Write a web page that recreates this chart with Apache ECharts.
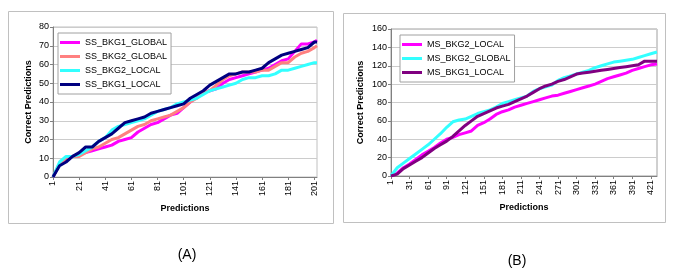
<!DOCTYPE html>
<html>
<head>
<meta charset="utf-8">
<script src="https://cdn.jsdelivr.net/npm/echarts@6/dist/echarts.min.js"></script>
<style>
  html, body { margin: 0; padding: 0; background: #fff; }
  #chart { width: 685px; height: 278px; }
</style>
</head>
<body>
<div id="chart"></div>
<script>
// panel A: sampled every 5 predictions
const xA = [1, 6, 11, 16, 21, 26, 31, 36, 41, 46, 51, 56, 61, 66, 71, 76, 81, 86, 91, 96, 101,
  106, 111, 116, 121, 126, 131, 136, 141, 146, 151, 156, 161, 166, 171, 176, 181, 186, 191, 196, 201, 203];
const ssBkg1Global = [0, 7, 10, 11, 12, 13, 14, 15, 16, 17, 19, 20, 21, 24, 26, 28, 29, 31, 33, 34, 37,
  40, 43, 45, 46, 47, 50, 52, 53, 54, 55, 56, 57, 58, 60, 62, 63, 67, 71, 71, 72, 73];
const ssBkg2Global = [0, 7, 10, 11, 11, 13, 15, 16, 18, 20, 21, 23, 25, 27, 28, 30, 31, 32, 33, 35, 37,
  40, 42, 45, 46, 49, 52, 54, 55, 56, 56, 56, 57, 57, 59, 61, 61, 64, 66, 67, 69, 70];
const ssBkg2Local = [0, 8, 11, 11, 12, 14, 16, 19, 21, 25, 27, 28, 29, 30, 31, 33, 35, 36, 37, 39, 40,
  41, 42, 44, 46, 47, 48, 49, 50, 52, 53, 53, 54, 54, 55, 57, 57, 58, 59, 60, 61, 61];
const ssBkg1Local = [0, 6, 8, 11, 13, 16, 16, 19, 21, 23, 26, 29, 30, 31, 32, 34, 35, 36, 37, 38, 39,
  42, 44, 46, 49, 51, 53, 55, 55, 56, 56, 57, 58, 61, 63, 65, 66, 67, 68, 69, 72, 72];
const xTicksA = [1, 21, 41, 61, 81, 101, 121, 141, 161, 181, 201];

// panel B: sampled every 10 predictions
const xB = [1, 11, 21, 31, 41, 51, 61, 71, 81, 91, 101, 111, 121, 131, 141, 151, 161, 171, 181, 191, 201,
  211, 221, 231, 241, 251, 261, 271, 281, 291, 301, 311, 321, 331, 341, 351, 361, 371, 381, 391, 401,
  411, 421, 431];
const msBkg2Local = [0, 3, 9, 13, 18, 23, 27, 31, 36, 40, 42, 45, 47, 49, 55, 58, 62, 67, 70, 72, 75,
  77, 79, 81, 83, 85, 87, 88, 90, 92, 94, 96, 98, 100, 103, 106, 108, 110, 112, 115, 117,
  119, 121, 122];
const msBkg2Global = [0, 9, 14, 19, 24, 29, 34, 40, 46, 53, 59, 61, 62, 65, 68, 70, 72, 75, 79, 81, 83,
  85, 87, 92, 95, 97, 99, 104, 107, 109, 111, 113, 115, 118, 120, 122, 124, 125, 126, 127, 129,
  131, 133, 135];
const msBkg1Local = [0, 2, 8, 12, 16, 20, 25, 30, 34, 38, 43, 49, 55, 60, 65, 68, 71, 74, 76, 78, 81,
  84, 87, 91, 95, 98, 100, 103, 105, 108, 111, 112, 113, 114, 115, 116, 117, 118, 119, 120, 121,
  125, 125, 125];
const xTicksB = [1, 31, 61, 91, 121, 151, 181, 211, 241, 271, 301, 331, 361, 391, 421];

const FONT = 'Liberation Sans, Arial, sans-serif';
const pairs = (xs, ys) => xs.map((x, i) => [x, ys[i]]);

const lineSeries = (name, color, xi, yi, xs, ys) => ({
  name,
  type: 'line',
  xAxisIndex: xi,
  yAxisIndex: yi,
  symbol: 'none',
  lineStyle: { width: 3, color },
  itemStyle: { color },
  data: pairs(xs, ys),
});

const xAxisOf = (gridIndex, max, ticks) => ({
  gridIndex,
  type: 'value',
  min: 1,
  max,
  name: 'Predictions',
  nameLocation: 'middle',
  nameGap: 24,
  nameTextStyle: { fontFamily: FONT, fontSize: 9, fontWeight: 'bold', color: '#000' },
  axisLine: { lineStyle: { color: '#808080' } },
  axisTick: { show: true, customValues: ticks, length: 3, lineStyle: { color: '#808080' } },
  axisLabel: { customValues: ticks, rotate: 90, fontFamily: FONT, fontSize: 9, color: '#000', margin: 4 },
  splitLine: { show: false },
});

const yAxisOf = (gridIndex, max, interval, gap) => ({
  gridIndex,
  type: 'value',
  min: 0,
  max,
  interval,
  name: 'Correct Predictions',
  nameLocation: 'middle',
  nameGap: gap,
  nameTextStyle: { fontFamily: FONT, fontSize: 9, fontWeight: 'bold', color: '#000' },
  axisLine: { show: true, lineStyle: { color: '#808080' } },
  axisTick: { show: true, length: 3, lineStyle: { color: '#808080' } },
  axisLabel: { fontFamily: FONT, fontSize: 9, color: '#000', margin: 4 },
  splitLine: { lineStyle: { color: '#cccccc' } },
});

const legendOf = (left, top, names) => ({
  data: names,
  orient: 'vertical',
  left,
  top,
  icon: 'rect',
  padding: [4, 4, 4, 2],
  itemWidth: 20,
  itemHeight: 3,
  itemGap: 3,
  backgroundColor: '#fff',
  borderColor: '#a0a0a0',
  borderWidth: 1,
  textStyle: { fontFamily: FONT, fontSize: 9, color: '#000', lineHeight: 11 },
});

const chart = echarts.init(document.getElementById('chart'), null, { renderer: 'canvas' });
chart.setOption({
  animation: false,
  backgroundColor: '#fff',
  graphic: [
    { type: 'rect', shape: { x: 8.5, y: 11.5, width: 325, height: 212 }, style: { fill: 'none', stroke: '#c0c0c0', lineWidth: 1 }, z: -10 },
    { type: 'rect', shape: { x: 343.5, y: 13.5, width: 322, height: 209 }, style: { fill: 'none', stroke: '#c0c0c0', lineWidth: 1 }, z: -10 },
    { type: 'text', x: 187, y: 255, style: { text: '(A)', font: '14px ' + FONT, fill: '#000', align: 'center', verticalAlign: 'middle' } },
    { type: 'text', x: 517, y: 261, style: { text: '(B)', font: '14px ' + FONT, fill: '#000', align: 'center', verticalAlign: 'middle' } },
  ],
  grid: [
    { left: 53, top: 27, width: 264, height: 150, show: true, borderColor: '#c0c0c0', borderWidth: 1, outerBoundsMode: 'none' },
    { left: 391, top: 29, width: 266, height: 147, show: true, borderColor: '#a0a0a0', borderWidth: 1, outerBoundsMode: 'none' },
  ],
  xAxis: [xAxisOf(0, 203, xTicksA), xAxisOf(1, 431, xTicksB)],
  yAxis: [yAxisOf(0, 80, 10, 20), yAxisOf(1, 160, 20, 26)],
  legend: [
    legendOf(58, 33, ['SS_BKG1_GLOBAL', 'SS_BKG2_GLOBAL', 'SS_BKG2_LOCAL', 'SS_BKG1_LOCAL']),
    legendOf(400, 35, ['MS_BKG2_LOCAL', 'MS_BKG2_GLOBAL', 'MS_BKG1_LOCAL']),
  ],
  series: [
    lineSeries('SS_BKG1_GLOBAL', '#ff00ff', 0, 0, xA, ssBkg1Global),
    lineSeries('SS_BKG2_GLOBAL', '#ff8080', 0, 0, xA, ssBkg2Global),
    lineSeries('SS_BKG2_LOCAL', '#33ffff', 0, 0, xA, ssBkg2Local),
    lineSeries('SS_BKG1_LOCAL', '#000080', 0, 0, xA, ssBkg1Local),
    lineSeries('MS_BKG2_LOCAL', '#ff00ff', 1, 1, xB, msBkg2Local),
    lineSeries('MS_BKG2_GLOBAL', '#33ffff', 1, 1, xB, msBkg2Global),
    lineSeries('MS_BKG1_LOCAL', '#800080', 1, 1, xB, msBkg1Local),
  ],
});
</script>
</body>
</html>
